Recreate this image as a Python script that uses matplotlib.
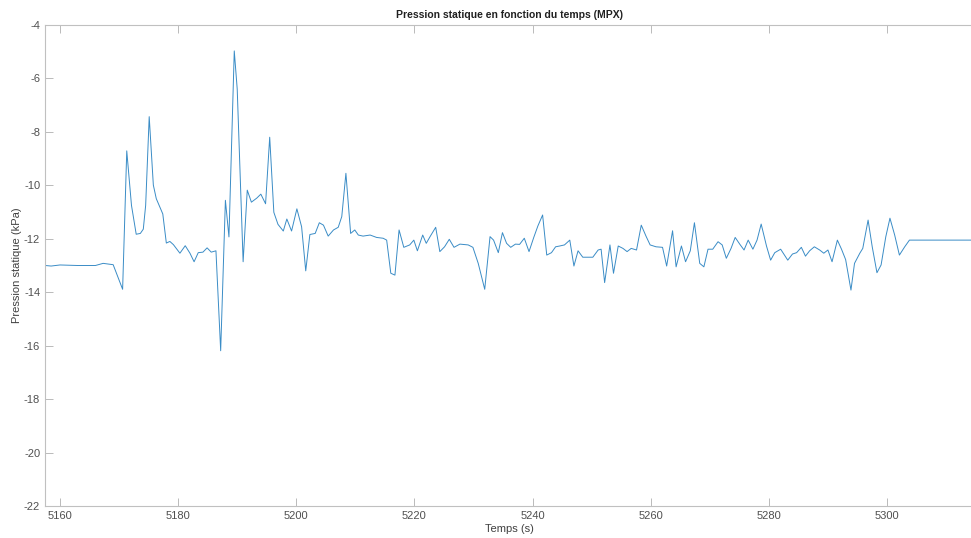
import matplotlib
matplotlib.use("Agg")
import matplotlib.pyplot as plt

# temps (s) et pression statique (kPa)
temps = [
    5157.5, 5158.5, 5160.0, 5163.0, 5166.0, 5167.3, 5169.0, 5170.6, 5171.3, 5172.1,
    5172.9, 5173.6, 5174.1, 5174.5, 5175.1, 5175.8, 5176.3, 5177.4, 5178.0, 5178.6,
    5179.2, 5180.3, 5181.2, 5182.0, 5182.7, 5183.4, 5184.2, 5184.9, 5185.6, 5186.4,
    5187.2, 5188.0, 5188.6, 5189.5, 5190.0, 5191.0, 5191.7, 5192.4, 5193.3, 5194.0,
    5194.8, 5195.5, 5196.2, 5196.9, 5197.8, 5198.4, 5199.2, 5200.1, 5200.9, 5201.6,
    5202.3, 5203.2, 5203.9, 5204.6, 5205.4, 5206.3, 5207.1, 5207.7, 5208.4, 5209.2,
    5209.9, 5210.5, 5211.3, 5212.5, 5213.6, 5214.7, 5215.3, 5216.0, 5216.7, 5217.4,
    5218.2, 5219.2, 5219.9, 5220.5, 5221.4, 5222.0, 5222.7, 5223.6, 5224.3, 5225.1,
    5225.9, 5226.7, 5227.7, 5229.1, 5229.9, 5230.8, 5231.9, 5232.8, 5233.4, 5234.2,
    5234.9, 5235.6, 5236.3, 5237.1, 5237.8, 5238.6, 5239.4, 5240.2, 5240.9, 5241.7,
    5242.4, 5243.2, 5243.9, 5244.6, 5245.4, 5246.3, 5247.0, 5247.7, 5248.5, 5249.4,
    5250.2, 5251.1, 5251.6, 5252.2, 5253.1, 5253.7, 5254.5, 5255.3, 5256.0, 5256.7,
    5257.6, 5258.4, 5259.2, 5259.9, 5260.9, 5262.0, 5262.7, 5263.7, 5264.3, 5265.2,
    5265.9, 5266.7, 5267.4, 5268.3, 5269.0, 5269.7, 5270.5, 5271.4, 5272.1, 5272.8,
    5273.6, 5274.3, 5275.1, 5275.8, 5276.5, 5277.3, 5278.0, 5278.7, 5279.6, 5280.3,
    5281.0, 5282.0, 5283.2, 5284.0, 5284.7, 5285.5, 5286.2, 5286.9, 5287.7, 5288.6,
    5289.3, 5290.0, 5290.7, 5291.6, 5292.3, 5293.0, 5293.9, 5294.5, 5295.4, 5295.9,
    5296.8, 5297.5, 5298.3, 5299.0, 5299.8, 5300.5, 5301.3, 5302.1, 5303.0, 5303.8,
    5315.0,
]
pression = [
    -13.00, -13.02, -12.98, -13.00, -13.00, -12.92, -12.97, -13.89, -8.71, -10.75,
    -11.83, -11.80, -11.64, -10.75, -7.43, -9.99, -10.50, -11.07, -12.16, -12.10,
    -12.22, -12.54, -12.26, -12.54, -12.86, -12.52, -12.50, -12.34, -12.50, -12.45,
    -16.19, -10.56, -11.93, -4.97, -6.40, -12.86, -10.18, -10.63, -10.48, -10.33,
    -10.69, -8.20, -11.01, -11.46, -11.71, -11.26, -11.71, -10.88, -11.55, -13.20,
    -11.84, -11.80, -11.40, -11.49, -11.90, -11.67, -11.57, -11.17, -9.55, -11.80,
    -11.67, -11.86, -11.90, -11.86, -11.95, -11.98, -12.05, -13.29, -13.36, -11.67,
    -12.32, -12.23, -12.05, -12.45, -11.86, -12.17, -11.90, -11.57, -12.48, -12.30,
    -12.02, -12.32, -12.20, -12.23, -12.32, -12.92, -13.89, -11.92, -12.05, -12.52,
    -11.77, -12.17, -12.32, -12.20, -12.21, -11.98, -12.48, -11.95, -11.52, -11.11,
    -12.61, -12.52, -12.30, -12.27, -12.23, -12.05, -13.02, -12.45, -12.69, -12.69,
    -12.69, -12.42, -12.39, -13.64, -12.23, -13.29, -12.27, -12.36, -12.48, -12.36,
    -12.42, -11.49, -11.90, -12.23, -12.30, -12.32, -13.02, -11.70, -13.05, -12.27,
    -12.86, -12.45, -11.40, -12.92, -13.05, -12.39, -12.39, -12.11, -12.23, -12.73,
    -12.36, -11.95, -12.21, -12.42, -12.05, -12.39, -12.05, -11.45, -12.27, -12.80,
    -12.52, -12.39, -12.80, -12.57, -12.52, -12.32, -12.65, -12.45, -12.30, -12.42,
    -12.54, -12.42, -12.86, -12.05, -12.39, -12.78, -13.92, -12.92, -12.54, -12.36,
    -11.30, -12.30, -13.27, -12.98, -11.92, -11.23, -11.86, -12.61, -12.30, -12.05,
    -12.05,
]
xticks = [5160, 5180, 5200, 5220, 5240, 5260, 5280, 5300]
yticks = [-22, -20, -18, -16, -14, -12, -10, -8, -6, -4]

plt.rcParams["font.family"] = ["Liberation Sans", "DejaVu Sans"]
plt.rcParams["axes.unicode_minus"] = False

fig = plt.figure(figsize=(9.71, 5.38), dpi=100)
ax = fig.add_axes([45 / 971, 32 / 538, 928 / 971, 481 / 538])
ax.plot(temps, pression, color="#3a8cc6", lw=0.7)

ax.set_xlim(5157.46, 5314.56)
ax.set_ylim(-22, -4)
ax.set_xticks(xticks)
ax.set_yticks(yticks)
ax.tick_params(direction="in", length=6, width=0.6, colors="#b0b0b0",
               labelcolor="#505050", labelsize=8, top=True)
for spine in ax.spines.values():
    spine.set_color("#c0c0c0")
    spine.set_linewidth(0.8)
ax.spines["right"].set_visible(False)

ax.set_xlabel("Temps (s)", fontsize=8, color="#404040", labelpad=2)
ax.set_ylabel("Pression statique (kPa)", fontsize=8, color="#404040", labelpad=1)
ax.set_title("Pression statique en fonction du temps (MPX)", fontsize=7.5,
             fontweight="bold", color="#202020", pad=5)

fig.savefig("out.png", dpi=100)
